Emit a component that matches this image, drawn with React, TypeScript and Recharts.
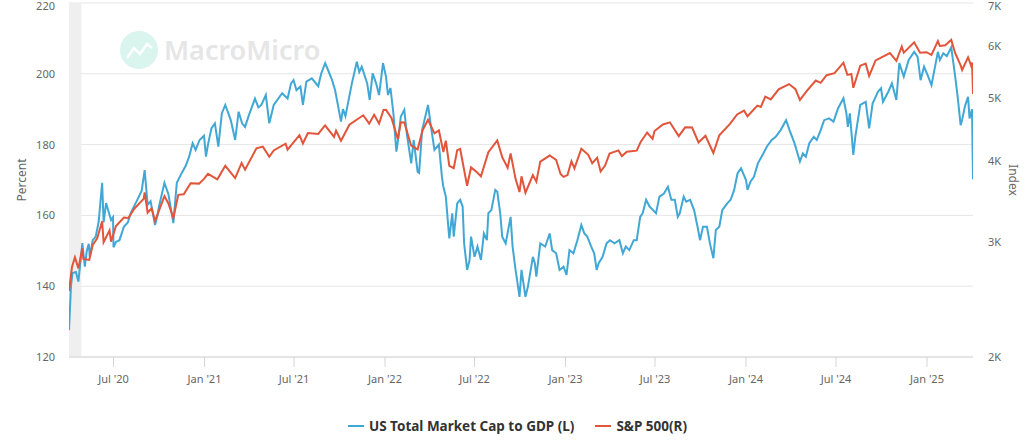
import { CartesianGrid, Customized, Legend, Line, LineChart, ReferenceArea, XAxis, YAxis } from "recharts";

const FONT = "'Noto Sans', 'Open Sans', sans-serif";
const BLUE = "#41a7d5";
const RED = "#e2553b";

// US total market cap to GDP, percent (left axis)
const capDates = [
  "2020-04-02", "2020-04-06", "2020-04-09", "2020-04-16", "2020-04-21", "2020-04-29", "2020-05-04", "2020-05-08",
  "2020-05-12", "2020-05-14", "2020-05-20", "2020-05-26", "2020-06-01", "2020-06-08", "2020-06-11", "2020-06-16",
  "2020-06-19", "2020-06-26", "2020-06-30", "2020-07-01", "2020-07-06", "2020-07-13", "2020-07-22", "2020-07-30",
  "2020-08-05", "2020-08-18", "2020-08-27", "2020-09-02", "2020-09-08", "2020-09-14", "2020-09-23", "2020-09-28",
  "2020-10-01", "2020-10-12", "2020-10-20", "2020-10-30", "2020-11-06", "2020-11-16", "2020-11-24", "2020-12-01",
  "2020-12-08", "2020-12-14", "2020-12-22", "2020-12-31", "2021-01-04", "2021-01-08", "2021-01-15", "2021-01-22",
  "2021-01-29", "2021-02-05", "2021-02-12", "2021-02-23", "2021-03-04", "2021-03-11", "2021-03-18", "2021-03-24",
  "2021-04-01", "2021-04-13", "2021-04-20", "2021-04-26", "2021-05-05", "2021-05-12", "2021-05-21", "2021-06-07",
  "2021-06-18", "2021-06-25", "2021-06-30", "2021-07-06", "2021-07-14", "2021-07-19", "2021-07-26", "2021-08-06",
  "2021-08-19", "2021-08-25", "2021-09-02", "2021-09-08", "2021-09-16", "2021-09-22", "2021-09-28", "2021-10-04",
  "2021-10-08", "2021-10-13", "2021-10-26", "2021-11-05", "2021-11-10", "2021-11-15", "2021-11-26", "2021-12-01",
  "2021-12-07", "2021-12-14", "2021-12-20", "2021-12-28", "2022-01-03", "2022-01-07", "2022-01-12", "2022-01-18",
  "2022-01-24", "2022-01-28", "2022-02-02", "2022-02-09", "2022-02-14", "2022-02-23", "2022-02-28", "2022-03-08",
  "2022-03-11", "2022-03-17", "2022-03-29", "2022-04-04", "2022-04-11", "2022-04-20", "2022-04-26", "2022-04-29",
  "2022-05-04", "2022-05-09", "2022-05-11", "2022-05-17", "2022-05-20", "2022-05-27", "2022-06-02", "2022-06-07",
  "2022-06-10", "2022-06-16", "2022-06-21", "2022-06-24", "2022-07-01", "2022-07-07", "2022-07-14", "2022-07-20",
  "2022-07-26", "2022-07-29", "2022-08-04", "2022-08-12", "2022-08-16", "2022-08-22", "2022-08-26", "2022-09-02",
  "2022-09-12", "2022-09-16", "2022-09-22", "2022-09-30", "2022-10-04", "2022-10-12", "2022-10-17", "2022-10-27",
  "2022-10-31", "2022-11-03", "2022-11-11", "2022-11-21", "2022-11-30", "2022-12-05", "2022-12-13", "2022-12-20",
  "2022-12-28", "2023-01-03", "2023-01-09", "2023-01-17", "2023-01-25", "2023-02-02", "2023-02-08", "2023-02-14",
  "2023-02-22", "2023-02-28", "2023-03-05", "2023-03-09", "2023-03-17", "2023-03-25", "2023-04-01", "2023-04-10",
  "2023-04-20", "2023-04-27", "2023-05-03", "2023-05-10", "2023-05-19", "2023-05-25", "2023-06-01", "2023-06-06",
  "2023-06-13", "2023-06-20", "2023-06-27", "2023-07-03", "2023-07-10", "2023-07-19", "2023-07-27", "2023-08-03",
  "2023-08-10", "2023-08-16", "2023-08-20", "2023-08-28", "2023-09-02", "2023-09-10", "2023-09-18", "2023-09-25",
  "2023-09-30", "2023-10-06", "2023-10-14", "2023-10-20", "2023-10-27", "2023-11-01", "2023-11-08", "2023-11-14",
  "2023-11-24", "2023-12-01", "2023-12-08", "2023-12-15", "2023-12-22", "2024-01-01", "2024-01-04", "2024-01-10",
  "2024-01-17", "2024-01-25", "2024-02-05", "2024-02-12", "2024-02-22", "2024-03-01", "2024-03-11", "2024-03-22",
  "2024-03-29", "2024-04-08", "2024-04-19", "2024-04-25", "2024-05-01", "2024-05-08", "2024-05-17", "2024-05-23",
  "2024-05-31", "2024-06-07", "2024-06-17", "2024-06-26", "2024-07-05", "2024-07-16", "2024-07-22", "2024-07-25",
  "2024-07-29", "2024-08-05", "2024-08-09", "2024-08-19", "2024-08-30", "2024-09-06", "2024-09-13", "2024-09-24",
  "2024-09-30", "2024-10-04", "2024-10-15", "2024-10-22", "2024-10-31", "2024-11-06", "2024-11-15", "2024-11-25",
  "2024-12-06", "2024-12-13", "2024-12-19", "2024-12-26", "2025-01-02", "2025-01-10", "2025-01-23", "2025-01-27",
  "2025-02-03", "2025-02-10", "2025-02-19", "2025-02-27", "2025-03-04", "2025-03-10", "2025-03-13", "2025-03-19",
  "2025-03-25", "2025-03-28", "2025-04-02", "2025-04-04",
];
const capValues = [
  127.6, 140, 143.7, 144, 141.3, 152.2, 145.5, 150,
  152, 148.3, 153, 154, 158.2, 169.2, 158, 163.5,
  162, 158.7, 159.5, 151, 152.5, 153, 156.8, 158,
  160.7, 164.4, 167, 172.8, 163, 164, 157.3, 160,
  162.5, 169.2, 166, 157.8, 169.2, 172, 174, 176.6,
  180.4, 178.5, 181.3, 182.5, 176.6, 180, 184.6, 186,
  179.4, 188.8, 191.2, 187, 181.3, 189.3, 186, 185,
  188.4, 193, 190.5, 191.2, 194, 186, 191.2, 194.5,
  193, 197.3, 198.2, 195.4, 196.4, 191.2, 197.8, 198.7,
  196.5, 200.1, 203, 201, 198.2, 195.4, 191, 186.5,
  190, 188, 197.3, 203.4, 200.5, 202, 197.3, 192.6,
  200.1, 197.3, 194, 203, 199.2, 194, 196, 188.8,
  178, 182, 187.9, 189.8, 183.2, 174.7, 181.3, 172.3,
  172, 184.1, 191.2, 185, 178.5, 180, 171, 168.1,
  165.3, 156.8, 153.5, 160.6, 154, 163.4, 164.4, 162.5,
  152.1, 144.6, 147.4, 154, 148.3, 151.2, 147.4, 154.9,
  153, 160.6, 161.5, 167.2, 166.7, 160.6, 154, 152.1,
  159.6, 151.2, 144.6, 137, 144.6, 137, 139.9, 148.3,
  146.5, 142.7, 152.1, 151.2, 154.9, 150.2, 149.3, 144.6,
  145.5, 143.2, 150.2, 149.3, 153, 157.3, 154.9, 154,
  151.2, 149.3, 144.6, 146.5, 148.3, 152.1, 153, 152.1,
  153, 149.3, 151.2, 150.2, 153, 153, 159.6, 160.6,
  164.4, 162.5, 161.5, 160.6, 165.3, 166.2, 168.1, 164.4,
  164.4, 159.6, 160.6, 165.3, 163.9, 164.4, 161.5, 156.8,
  153, 156.8, 156.8, 152.1, 147.9, 155.9, 156.8, 161.5,
  163.4, 164.4, 167.2, 171.9, 173.3, 170, 167.2, 169.5,
  170.9, 174.7, 177.5, 179.4, 181.3, 182.2, 184.1, 186.9,
  184.1, 180.4, 175.2, 177.5, 176.6, 180.4, 182.2, 181.3,
  184.1, 186.9, 187.4, 186.5, 190.2, 193.1, 188.8, 185,
  188.8, 177.1, 182.2, 191.2, 192.1, 184.6, 191.6, 195,
  195.9, 192.1, 195, 197.3, 192.6, 203, 199.2, 203.9,
  206.2, 204.8, 198.2, 202, 199.7, 196.8, 206.2, 203.9,
  205.8, 205, 207.5, 199.2, 193.5, 185.5, 187, 191,
  193.5, 187.4, 190, 170.2,
];

// S&P 500 index level (right axis, log)
const spxDates = [
  "2020-04-02", "2020-04-08", "2020-04-14", "2020-04-21", "2020-04-29", "2020-05-01", "2020-05-13", "2020-05-20",
  "2020-05-29", "2020-06-08", "2020-06-11", "2020-06-23", "2020-06-26", "2020-07-06", "2020-07-22", "2020-07-31",
  "2020-08-12", "2020-08-31", "2020-09-02", "2020-09-08", "2020-09-16", "2020-09-23", "2020-10-12", "2020-10-20",
  "2020-10-30", "2020-11-09", "2020-11-20", "2020-12-04", "2020-12-21", "2020-12-31", "2021-01-08", "2021-01-27",
  "2021-02-12", "2021-03-04", "2021-03-17", "2021-03-24", "2021-04-16", "2021-04-29", "2021-05-12", "2021-05-21",
  "2021-06-14", "2021-06-18", "2021-07-12", "2021-07-19", "2021-07-29", "2021-08-19", "2021-08-31", "2021-09-02",
  "2021-09-20", "2021-09-24", "2021-10-04", "2021-10-21", "2021-11-18", "2021-11-30", "2021-12-10", "2021-12-20",
  "2021-12-29", "2022-01-03", "2022-01-14", "2022-01-27", "2022-02-02", "2022-02-09", "2022-02-23", "2022-03-08",
  "2022-03-18", "2022-03-29", "2022-04-11", "2022-04-20", "2022-04-29", "2022-05-04", "2022-05-11", "2022-05-20",
  "2022-05-27", "2022-06-02", "2022-06-16", "2022-06-24", "2022-07-06", "2022-07-14", "2022-07-29", "2022-08-16",
  "2022-08-26", "2022-09-06", "2022-09-12", "2022-09-22", "2022-09-30", "2022-10-04", "2022-10-12", "2022-10-27",
  "2022-11-03", "2022-11-11", "2022-11-30", "2022-12-13", "2022-12-22", "2022-12-28", "2023-01-05", "2023-01-13",
  "2023-01-19", "2023-02-02", "2023-02-16", "2023-02-24", "2023-03-06", "2023-03-13", "2023-03-22", "2023-03-31",
  "2023-04-18", "2023-04-25", "2023-05-05", "2023-05-25", "2023-06-02", "2023-06-15", "2023-06-26", "2023-06-30",
  "2023-07-17", "2023-07-31", "2023-08-18", "2023-08-31", "2023-09-14", "2023-09-27", "2023-10-11", "2023-10-27",
  "2023-11-08", "2023-11-30", "2023-12-14", "2023-12-28", "2024-01-04", "2024-01-24", "2024-01-31", "2024-02-09",
  "2024-02-20", "2024-03-07", "2024-03-28", "2024-04-10", "2024-04-19", "2024-05-03", "2024-05-21", "2024-05-31",
  "2024-06-12", "2024-06-28", "2024-07-16", "2024-07-24", "2024-08-01", "2024-08-05", "2024-08-19", "2024-08-30",
  "2024-09-06", "2024-09-19", "2024-10-18", "2024-10-31", "2024-11-11", "2024-11-15", "2024-12-06", "2024-12-18",
  "2024-12-31", "2025-01-10", "2025-01-23", "2025-01-27", "2025-02-07", "2025-02-19", "2025-02-27", "2025-03-10",
  "2025-03-13", "2025-03-25", "2025-03-31", "2025-04-02", "2025-04-03", "2025-04-04",
];
const spxValues = [
  2526, 2750, 2846, 2737, 2939, 2830, 2820, 2972,
  3044, 3232, 3002, 3131, 3009, 3180, 3277, 3271,
  3380, 3500, 3580, 3332, 3385, 3237, 3534, 3443,
  3270, 3550, 3557, 3699, 3694, 3756, 3824, 3750,
  3934, 3768, 3974, 3881, 4185, 4211, 4063, 4155,
  4255, 4166, 4384, 4258, 4419, 4405, 4523, 4537,
  4358, 4455, 4300, 4549, 4705, 4567, 4712, 4568,
  4793, 4796, 4662, 4326, 4589, 4587, 4225, 4170,
  4463, 4631, 4413, 4459, 4132, 4300, 3935, 3901,
  4158, 4176, 3667, 3912, 3845, 3790, 4130, 4305,
  4057, 3908, 4110, 3757, 3586, 3791, 3577, 3807,
  3720, 3993, 4080, 4019, 3822, 3783, 3808, 3999,
  3899, 4180, 4090, 3970, 4048, 3855, 3937, 4109,
  4155, 4072, 4136, 4151, 4282, 4426, 4328, 4450,
  4554, 4589, 4370, 4508, 4505, 4274, 4376, 4117,
  4383, 4568, 4719, 4783, 4688, 4868, 4846, 5026,
  4976, 5157, 5254, 5161, 4967, 5128, 5321, 5278,
  5421, 5460, 5667, 5427, 5446, 5186, 5608, 5648,
  5408, 5713, 5864, 5705, 6001, 5870, 6090, 5872,
  5882, 5827, 6119, 6012, 6026, 6144, 5861, 5614,
  5522, 5777, 5612, 5671, 5397, 5074,
];

const seriesNames = ["US Total Market Cap to GDP (L)", "S&P 500(R)"];
const seriesColors = [BLUE, RED];

const xTickDates = [
  "2020-07-01", "2021-01-01", "2021-07-01", "2022-01-01", "2022-07-01",
  "2023-01-01", "2023-07-01", "2024-01-01", "2024-07-01", "2025-01-01",
];
const xTickLabels = [
  "Jul '20", "Jan '21", "Jul '21", "Jan '22", "Jul '22",
  "Jan '23", "Jul '23", "Jan '24", "Jul '24", "Jan '25",
];
const leftTicks = [120, 140, 160, 180, 200, 220];
const rightTicks = [2000, 3000, 4000, 5000, 6000, 7000];
const recession = ["2020-04-02", "2020-04-27"];
const xDomain = ["2020-04-02", "2025-04-04"];

const ts = (d: string) => Date.parse(d + "T00:00:00Z");

const capData = capDates.map((d, i) => ({ t: ts(d), v: capValues[i] }));
const spxData = spxDates.map((d, i) => ({ t: ts(d), v: spxValues[i] }));
const xTicks = xTickDates.map(ts);

const tickStyle = { fontSize: 11, fill: "#666", fontFamily: FONT };

function Overlay() {
  return (
    <g>
      <g opacity={0.9}>
        <circle cx={139} cy={50} r={19} fill="#d7f4ec" />
        <polyline points="127,58 134,48 140,54 147,44 152,48" fill="none" stroke="#fff" strokeWidth={2.5} />
        <text x={164} y={60} fontSize={27} fontWeight={600} fill="#e4e4e4" fontFamily={FONT}>
          MacroMicro
        </text>
      </g>
      <text x={26} y={180} transform="rotate(-90 26 180)" textAnchor="middle" fontSize={12} fill="#666" fontFamily={FONT}>
        Percent
      </text>
      <text x={1009} y={180} transform="rotate(90 1009 180)" textAnchor="middle" fontSize={12} fill="#666" fontFamily={FONT}>
        Index
      </text>
    </g>
  );
}

function LegendContent() {
  return (
    <div
      style={{
        height: 49,
        boxSizing: "border-box",
        paddingTop: 9,
        display: "flex",
        justifyContent: "center",
        gap: 21,
        fontFamily: FONT,
        fontWeight: 700,
        fontSize: 13.5,
        lineHeight: "18px",
        color: "#333",
      }}
    >
      {seriesNames.map((name, i) => (
        <span key={name} style={{ display: "flex", alignItems: "center" }}>
          <span style={{ width: 16, height: 2, background: seriesColors[i], marginRight: 5 }} />
          {name}
        </span>
      ))}
    </div>
  );
}

export default function App() {
  return (
    <div style={{ position: "absolute", left: 0, top: 0, width: 1035, height: 446, background: "#fff" }}>
      <LineChart width={1035} height={446} margin={{ top: 3, right: 0, bottom: 0, left: 0 }}>
        <CartesianGrid yAxisId="left" vertical={false} stroke="#e6e6e6" />
        <ReferenceArea
          yAxisId="left"
          x1={ts(recession[0])}
          x2={ts(recession[1])}
          y1={120}
          y2={220}
          fill="#efefef"
          fillOpacity={1}
          stroke="none"
        />
        <XAxis
          dataKey="t"
          type="number"
          domain={[ts(xDomain[0]), ts(xDomain[1])]}
          ticks={xTicks}
          tickFormatter={(v: number) => xTickLabels[xTicks.indexOf(v)] ?? ""}
          allowDataOverflow
          height={40}
          tickSize={10}
          tickMargin={8}
          stroke="#d6d6d6"
          tick={tickStyle}
        />
        <YAxis
          yAxisId="left"
          domain={[120, 220]}
          ticks={leftTicks}
          width={69}
          axisLine={false}
          tickLine={false}
          tickSize={6}
          tickMargin={8}
          tick={tickStyle}
        />
        <YAxis
          yAxisId="right"
          orientation="right"
          scale="log"
          domain={[2000, 7000]}
          ticks={rightTicks}
          tickFormatter={(v: number) => `${v / 1000}K`}
          width={62}
          axisLine={false}
          tickLine={false}
          tickSize={6}
          tickMargin={9}
          allowDataOverflow
          tick={tickStyle}
        />
        <Line
          yAxisId="left"
          data={capData}
          dataKey="v"
          name={seriesNames[0]}
          stroke={BLUE}
          strokeWidth={2}
          dot={false}
          isAnimationActive={false}
        />
        <Line
          yAxisId="right"
          data={spxData}
          dataKey="v"
          name={seriesNames[1]}
          stroke={RED}
          strokeWidth={2}
          dot={false}
          isAnimationActive={false}
        />
        <Legend verticalAlign="bottom" content={LegendContent} />
        <Customized component={Overlay} />
      </LineChart>
    </div>
  );
}
